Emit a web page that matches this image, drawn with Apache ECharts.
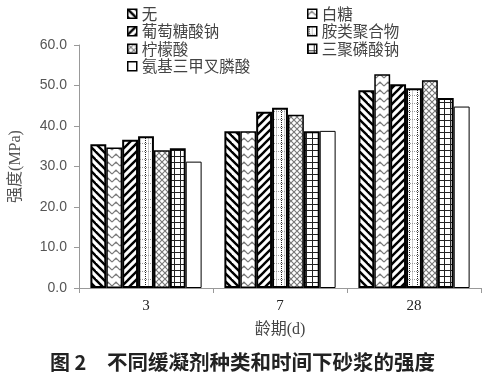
<!DOCTYPE html>
<html><head><meta charset="utf-8">
<script src="https://cdn.jsdelivr.net/npm/echarts@6/dist/echarts.min.js"></script>
<style>html,body{margin:0;padding:0;background:#fff}#c{width:485px;height:383px}</style>
</head><body><div id="c"></div>
<script>
const categories = ['3', '7', '28'];
const seriesNames = ['无', '白糖', '葡萄糖酸钠', '胺类聚合物', '柠檬酸', '三聚磷酸钠', '氨基三甲叉膦酸'];
const v_none = [35.5, 38.7, 48.8];
const v_sugar = [34.7, 38.7, 52.8];
const v_gluconate = [36.6, 43.5, 50.3];
const v_amine = [37.5, 44.5, 49.3];
const v_citric = [34.0, 42.8, 51.3];
const v_stpp = [34.5, 38.7, 46.9];
const v_atmp = [31.2, 38.8, 44.8];
const yTicks = [0, 10, 20, 30, 40, 50, 60];

function pat(type) {
  const c = document.createElement('canvas');
  const s = (type === 'grid' || type === 'cross') ? 6 : 8;
  c.width = s; c.height = s;
  const g = c.getContext('2d');
  g.fillStyle = '#fff'; g.fillRect(0, 0, s, s);
  if (type === 'back' || type === 'fwd') {
    g.strokeStyle = '#000'; g.lineWidth = 2.4;
    const L = (x1, y1, x2, y2) => { g.beginPath(); g.moveTo(x1, y1); g.lineTo(x2, y2); g.stroke(); };
    if (type === 'back') { L(-2, -2, s + 2, s + 2); L(-2, s - 2, 2, s + 2); L(s - 2, -2, s + 2, 2); }
    else { L(-2, s + 2, s + 2, -2); L(-2, 2, 2, -2); L(s - 2, s + 2, s + 2, s - 2); }
  } else if (type === 'zig') {
    g.strokeStyle = '#777'; g.lineWidth = 1.1;
    g.beginPath(); g.moveTo(0, 6); g.lineTo(4, 2); g.lineTo(8, 6); g.stroke();
    g.beginPath(); g.moveTo(4, 2); g.lineTo(4, 4); g.stroke();
  } else if (type === 'dots') {
    g.fillStyle = '#ccc'; g.fillRect(4, 0, 1, s);
    g.fillStyle = '#222';
    for (let y = 0; y < s; y += 2) { g.fillRect(1, y, 1, 1); }
    g.fillStyle = '#999';
    for (let x = 0; x < s; x += 2) { g.fillRect(x, 7, 1, 1); }
  } else if (type === 'cross') {
    g.strokeStyle = '#777'; g.lineWidth = 1.1;
    g.beginPath(); g.moveTo(0, 0); g.lineTo(s, s); g.moveTo(0, s); g.lineTo(s, 0); g.stroke();
  } else if (type === 'grid') {
    g.fillStyle = '#222'; g.fillRect(0, 0, s, 1); g.fillRect(0, 0, 1, s);
  }
  return { image: c, repeat: 'repeat' };
}

const styles = [
  { color: pat('back'), borderColor: '#000', borderWidth: 2 },
  { color: pat('zig'), borderColor: '#000', borderWidth: 1.5 },
  { color: pat('fwd'), borderColor: '#000', borderWidth: 2 },
  { color: pat('dots'), borderColor: '#000', borderWidth: 2 },
  { color: pat('cross'), borderColor: '#000', borderWidth: 1.5 },
  { color: pat('grid'), borderColor: '#000', borderWidth: 2 },
  { color: '#fff', borderColor: '#000', borderWidth: 1 }
];
const values = [v_none, v_sugar, v_gluconate, v_amine, v_citric, v_stpp, v_atmp];

const chart = echarts.init(document.getElementById('c'), null, { renderer: 'canvas' });
const legendText = { fontFamily: 'Noto Sans CJK SC', fontSize: 15.5, color: '#444', lineHeight: 17.5 };
chart.setOption({
  animation: false,
  backgroundColor: '#fff',
  grid: { left: 75, right: 4, top: 45, bottom: 95 },
  legend: [
    { data: [seriesNames[0], seriesNames[2], seriesNames[4], seriesNames[6]], orient: 'vertical', left: 127, top: 5,
      icon: 'rect', itemWidth: 9, itemHeight: 9, itemGap: 0, itemStyle: { borderWidth: 1.5 }, textStyle: legendText, padding: 0, selectedMode: false },
    { data: [seriesNames[1], seriesNames[3], seriesNames[5]], orient: 'vertical', left: 307, top: 5,
      icon: 'rect', itemWidth: 9, itemHeight: 9, itemGap: 0, itemStyle: { borderWidth: 1.5 }, textStyle: legendText, padding: 0, selectedMode: false }
  ],
  xAxis: {
    type: 'category', data: categories,
    name: '龄期(d)', nameLocation: 'middle', nameGap: 34,
    nameTextStyle: { fontFamily: 'Liberation Serif, Noto Sans CJK SC', fontSize: 16, color: '#444' },
    axisLine: { lineStyle: { color: '#999' } },
    axisTick: { show: true, length: 5, lineStyle: { color: '#999' } },
    axisLabel: { fontFamily: 'Liberation Serif', fontSize: 15, color: '#222', margin: 11 }
  },
  yAxis: {
    type: 'value', min: yTicks[0], max: yTicks[yTicks.length - 1], interval: 10,
    name: '强度(MPa)', nameLocation: 'middle', nameGap: 55, nameRotate: 90,
    nameTextStyle: { fontFamily: 'Liberation Serif, Noto Sans CJK SC', fontSize: 16, color: '#555' },
    axisLine: { show: true, lineStyle: { color: '#999' } },
    axisTick: { show: true, length: 5, lineStyle: { color: '#999' } },
    splitLine: { show: false },
    axisLabel: { fontFamily: 'Liberation Sans', fontSize: 14, color: '#555', margin: 12,
      formatter: v => v.toFixed(1) }
  },
  series: seriesNames.map((n, i) => ({
    name: n, type: 'bar', data: values[i], barGap: '0%', barCategoryGap: '17%',
    itemStyle: styles[i]
  })),
  graphic: [
    { type: 'text', left: 50, top: 352, style: { text: '图 2', font: 'bold 20px "Noto Sans CJK SC"', fill: '#222' } },
    { type: 'text', left: 107, top: 352, style: { text: '不同缓凝剂种类和时间下砂浆的强度', font: 'bold 20.5px "Noto Sans CJK SC"', fill: '#222' } }
  ]
});
</script></body></html>
